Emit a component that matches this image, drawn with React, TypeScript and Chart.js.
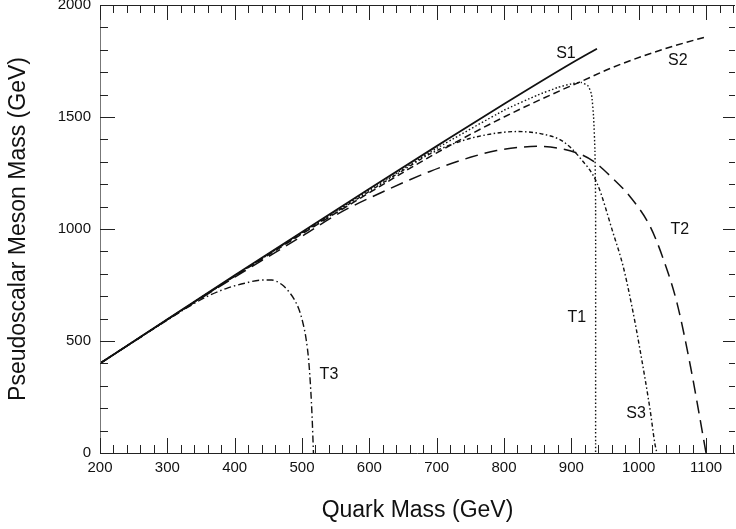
import React, { useEffect, useRef } from 'react';
import { Chart, registerables } from 'chart.js';

Chart.register(...registerables);

// ---- data (Quark Mass GeV, Pseudoscalar Meson Mass GeV) ----
const xTickValues = [200, 300, 400, 500, 600, 700, 800, 900, 1000, 1100];
const yTickValues = [0, 500, 1000, 1500, 2000];

const S1: [number, number][] = [
  [200, 400], [300, 597], [400, 793], [500, 987], [600, 1180], [700, 1370],
  [800, 1558], [900, 1740], [938, 1805],
];
const S2: [number, number][] = [
  [200, 400], [300, 596], [400, 789], [500, 978], [600, 1162], [700, 1340],
  [800, 1500], [888, 1624], [908, 1650], [962, 1722], [1012, 1778], [1050, 1815], [1100, 1858],
];
const T1: [number, number][] = [
  [200, 400], [300, 596], [400, 791], [500, 984], [600, 1174], [700, 1360],
  [800, 1530], [850, 1598], [880, 1632], [900, 1648], [915, 1654], [925, 1638],
  [930, 1600], [933, 1500], [935, 1350], [936, 1100], [936, 0],
];
const T2: [number, number][] = [
  [200, 400], [300, 595], [400, 785], [500, 968], [556, 1072], [600, 1138],
  [690, 1257], [750, 1320], [789, 1350], [850, 1369], [908, 1340], [933, 1302],
  [960, 1230], [987, 1145], [1017, 1011], [1037, 862], [1057, 668], [1077, 385],
  [1090, 170], [1100, 0],
];
const S3: [number, number][] = [
  [200, 400], [300, 596], [400, 790], [500, 982], [600, 1168], [650, 1262],
  [690, 1335], [720, 1375], [760, 1412], [819, 1435], [860, 1422], [888, 1390],
  [913, 1317], [938, 1205], [962, 982], [977, 832], [990, 653], [1002, 460],
  [1017, 191], [1024, 42], [1027, 0],
];
const T3: [number, number][] = [
  [200, 400], [250, 497], [300, 593], [330, 650], [360, 700], [390, 737], [415, 758],
  [440, 772], [455, 772], [470, 752], [480, 722], [488, 688], [495, 645],
  [501, 585], [506, 510], [510, 410], [513, 280], [515, 160], [517, 0],
];

const curveLabels = ['S1', 'S2', 'T2', 'T1', 'S3', 'T3'];
const curveLabelX = [892, 1058, 1061, 908, 996, 540];
const curveLabelY = [1784, 1753, 996, 603, 178, 348];

const X_MIN = 200;
const X_MAX = 1143;
const Y_MIN = 0;
const Y_MAX = 2000;
const X_MINOR = 20;
const Y_MINOR = 100;

const FONT = "'Liberation Sans', Arial, Helvetica, sans-serif";

const toPts = (a: [number, number][]) => a.map(([x, y]) => ({ x, y }));

const framePlugin = {
  id: 'frameTicks',
  afterDatasetsDraw(chart: any) {
    const { ctx, chartArea, scales } = chart;
    const { left, right, top, bottom } = chartArea;
    const xs = scales.x;
    const ys = scales.y;
    ctx.save();
    ctx.lineWidth = 1;
    // frame
    ctx.strokeStyle = '#222';
    ctx.beginPath();
    ctx.moveTo(left, top + 0.5);
    ctx.lineTo(right, top + 0.5);
    ctx.moveTo(left, bottom + 0.5);
    ctx.lineTo(right, bottom + 0.5);
    ctx.stroke();
    ctx.strokeStyle = '#777';
    ctx.beginPath();
    ctx.moveTo(left + 0.5, top);
    ctx.lineTo(left + 0.5, bottom);
    ctx.stroke();
    // x ticks (inward, bottom and top)
    ctx.strokeStyle = '#222';
    ctx.beginPath();
    for (let v = X_MIN; v <= X_MAX; v += X_MINOR) {
      const px = Math.round(xs.getPixelForValue(v)) + 0.5;
      const major = v % 100 === 0;
      const lb = major ? 15 : 8;
      ctx.moveTo(px, bottom);
      ctx.lineTo(px, bottom - lb);
      ctx.moveTo(px, top);
      ctx.lineTo(px, top + lb);
    }
    // y ticks (inward, left and right)
    for (let v = Y_MIN; v <= Y_MAX; v += Y_MINOR) {
      const py = Math.round(ys.getPixelForValue(v)) + 0.5;
      const major = v % 500 === 0;
      ctx.moveTo(left, py);
      ctx.lineTo(left + (major ? 15 : 8), py);
      ctx.moveTo(right, py);
      ctx.lineTo(right - (major ? 12 : 6), py);
    }
    ctx.stroke();
    // curve labels
    ctx.fillStyle = '#111';
    ctx.font = `16px ${FONT}`;
    ctx.textAlign = 'center';
    ctx.textBaseline = 'middle';
    curveLabels.forEach((t, i) => {
      ctx.fillText(t, xs.getPixelForValue(curveLabelX[i]), ys.getPixelForValue(curveLabelY[i]));
    });
    ctx.restore();
  },
};

export default function App() {
  const ref = useRef<HTMLCanvasElement | null>(null);

  useEffect(() => {
    if (!ref.current) return;
    const mk = (data: [number, number][], dash: number[], width: number, monotone: boolean) => ({
      data: toPts(data),
      borderColor: '#111',
      borderWidth: width,
      borderDash: dash,
      pointRadius: 0,
      fill: false,
      tension: monotone ? 0.4 : 0.15,
      cubicInterpolationMode: monotone ? 'monotone' : 'default',
    });
    const chart = new Chart(ref.current, {
      type: 'line',
      data: {
        datasets: [
          mk(S1, [], 1.8, true),
          mk(S2, [7, 4], 1.5, true),
          mk(T1, [1.5, 2.2], 1.4, false),
          mk(T2, [13, 7], 1.5, true),
          mk(S3, [4, 2.5, 1.5, 2.5], 1.4, true),
          mk(T3, [7, 3, 1.5, 3], 1.4, true),
        ] as any,
      },
      options: {
        responsive: false,
        animation: false,
        devicePixelRatio: 1,
        layout: { padding: { top: 5, right: 1, left: 0, bottom: 0 } },
        plugins: { legend: { display: false }, tooltip: { enabled: false } },
        scales: {
          x: {
            type: 'linear',
            min: X_MIN,
            max: X_MAX,
            afterBuildTicks: (s: any) => {
              s.ticks = xTickValues.map((v) => ({ value: v }));
            },
            afterFit: (s: any) => {
              s.height = 76;
              s.paddingLeft = 0;
              s.paddingRight = 0;
            },
            grid: { display: false, drawTicks: false },
            border: { display: false },
            ticks: {
              color: '#111',
              font: { size: 15, family: FONT },
              padding: 6,
              maxRotation: 0,
              callback: (v: any) => String(v),
            },
            title: {
              display: true,
              text: 'Quark Mass (GeV)',
              color: '#111',
              font: { size: 23, family: FONT },
              padding: { top: 0, bottom: 5 },
            },
          },
          y: {
            type: 'linear',
            min: Y_MIN,
            max: Y_MAX,
            afterBuildTicks: (s: any) => {
              s.ticks = yTickValues.map((v) => ({ value: v }));
            },
            afterFit: (s: any) => {
              s.width = 100;
              s.paddingTop = 0;
              s.paddingBottom = 0;
            },
            grid: { display: false, drawTicks: false },
            border: { display: false },
            ticks: {
              color: '#111',
              font: { size: 15, family: FONT },
              padding: 9,
              callback: (v: any) => String(v),
            },
            title: {
              display: true,
              text: 'Pseudoscalar Meson Mass (GeV)',
              color: '#111',
              font: { size: 23, family: FONT },
              padding: { top: 5, bottom: 0 },
            },
          },
        },
      } as any,
      plugins: [framePlugin],
    });
    return () => chart.destroy();
  }, []);

  return (
    <div style={{ position: 'fixed', left: 0, top: 0, width: 736, height: 529, background: '#fff' }}>
      <canvas ref={ref} width={736} height={529} style={{ width: 736, height: 529, display: 'block' }} />
    </div>
  );
}
